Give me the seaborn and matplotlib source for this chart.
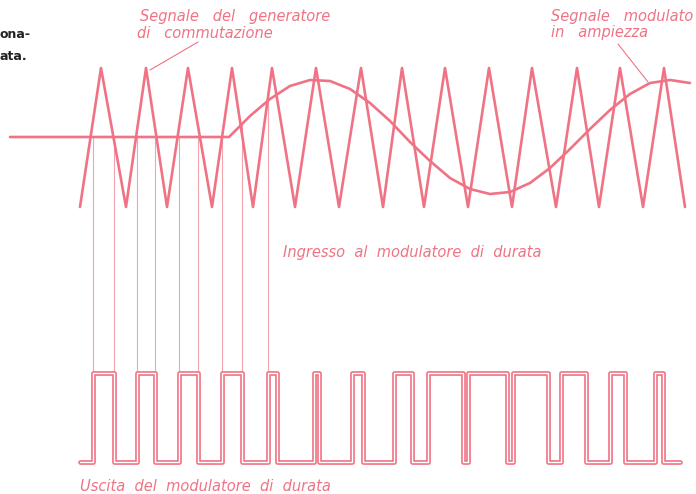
"""Pulse-duration modulator sketch: triangle carrier, modulating signal, PWM output."""
import numpy as np
import pandas as pd
import matplotlib
matplotlib.use("Agg")
import matplotlib.pyplot as plt
import seaborn as sns

# drawing units
TOP, BOTTOM = 68, 207          # triangle carrier extremes
BASE = 137                     # rest level of modulating signal
HI, LO = 373, 462              # output pulse levels

# triangle carrier: x of bottoms and tops, alternating
tri_bottoms = [80, 126, 167, 212, 253, 295, 339, 383, 424, 468, 512, 556, 599, 643, 685]
tri_tops = [101, 146, 188, 232, 272, 316, 361, 402, 445, 489, 532, 577, 620, 664]

# modulating signal (flat, then one and a bit sine cycle)
sig_x = [10, 229, 250, 270, 290, 310, 330, 350, 370, 390, 410, 430, 450, 470,
         490, 510, 530, 550, 570, 590, 610, 630, 650, 670, 690]
sig_y = [137, 137, 116, 99, 86, 80, 81, 89, 103, 121, 142, 161, 178, 189,
         194, 192, 183, 168, 149, 129, 110, 94, 83, 80, 83]

# output pulses: (rise, fall)
pulse_rise = [93, 137, 179, 222, 268, 314, 352, 394, 428, 468, 513, 561, 610, 655]
pulse_fall = [114, 155, 198, 242, 277, 319, 363, 412, 463, 507, 548, 586, 625, 663]
pulse_start, pulse_end = 80, 680

# projection lines from the comparator crossings down to the output
proj_x = [93, 114, 137, 155, 179, 198, 222, 242, 268]
proj_top = [137, 137, 137, 137, 137, 137, 137, 125, 98]

PINK = "#ef7384"
PALE = "#f2a3ad"

sns.set_theme(style="white")

fig = plt.figure(figsize=(6.96, 4.94), dpi=100)
ax = fig.add_axes([0, 0, 1, 1])

# triangle
tx, ty = [], []
for i, b in enumerate(tri_bottoms):
    tx.append(b); ty.append(BOTTOM)
    if i < len(tri_tops):
        tx.append(tri_tops[i]); ty.append(TOP)
sns.lineplot(x=tx, y=ty, sort=False, estimator=None, color=PINK, lw=1.9, ax=ax)

# signal
sns.lineplot(x=sig_x, y=sig_y, sort=False, estimator=None, color=PINK, lw=1.9, ax=ax)

# projection lines
for x, y0 in zip(proj_x, proj_top):
    ax.plot([x, x], [y0, HI], color=PALE, lw=0.8, zorder=1)

# output pulse train, drawn as a double outline
px, py = [pulse_start], [LO]
for r, f in zip(pulse_rise, pulse_fall):
    px += [r, r, f, f]
    py += [LO, HI, HI, LO]
px.append(pulse_end); py.append(LO)
pulses = pd.DataFrame({"x": px, "y": py})
sns.lineplot(data=pulses, x="x", y="y", sort=False, estimator=None,
             color=PINK, lw=3.4, ax=ax)
sns.lineplot(data=pulses, x="x", y="y", sort=False, estimator=None,
             color="white", lw=1.0, ax=ax)

# leader lines
ax.plot([150, 198], [70, 42], color=PINK, lw=0.8)
ax.plot([618, 648], [44, 82], color=PINK, lw=0.8)

lab = dict(color=PINK, style="italic", fontsize=10.5, ha="left", va="center")
ax.text(140, 17, "Segnale   del   generatore", **lab)
ax.text(137, 33, "di   commutazione", **lab)
ax.text(551, 17, "Segnale   modulato", **lab)
ax.text(551, 33, "in   ampiezza", **lab)
ax.text(283, 252, "Ingresso  al  modulatore  di  durata", **lab)
ax.text(80, 486, "Uscita  del  modulatore  di  durata", **lab)

# caption fragment cut by the page edge
ax.text(0, 35, "ona-", color="#222222", fontsize=9, fontweight="bold", ha="left", va="center")
ax.text(0, 56, "ata.", color="#222222", fontsize=9, fontweight="bold", ha="left", va="center")

ax.set_xlim(0, 696)
ax.set_ylim(494, 0)
ax.set_axis_off()
if ax.get_legend():
    ax.get_legend().remove()

fig.savefig("out.png", dpi=100)
